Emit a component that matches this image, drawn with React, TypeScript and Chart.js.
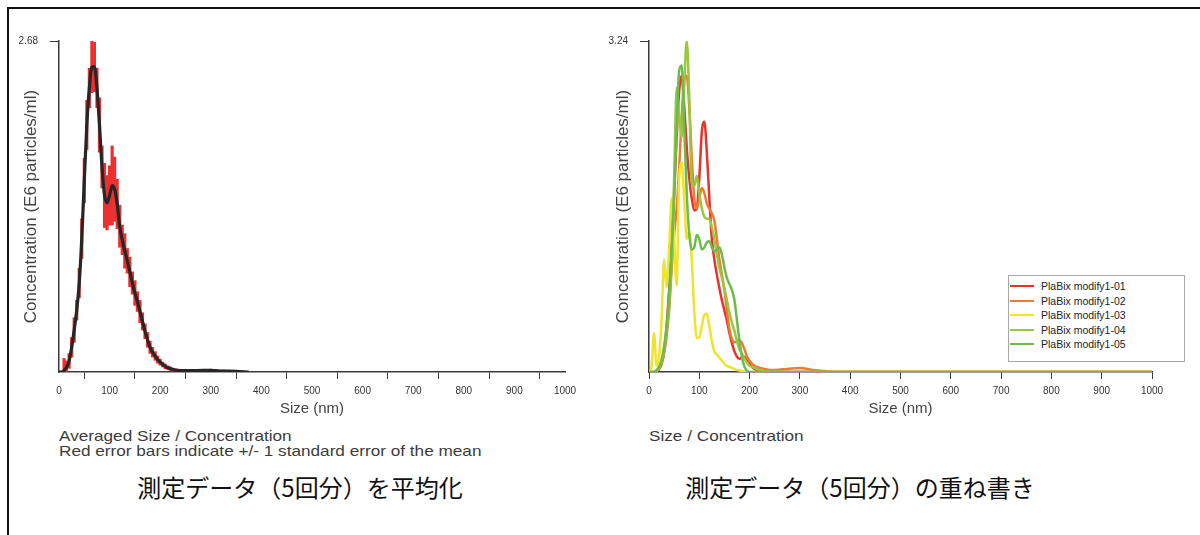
import React, { useEffect, useRef } from 'react';
import { Chart, registerables } from 'chart.js';

Chart.register(...registerables);

const FONT = '"Liberation Sans", Arial, Helvetica, sans-serif';
const JP_FONT = '"Noto Sans CJK JP", "Noto Sans CJK SC", sans-serif';

// ---------- Left chart: averaged data ----------
const leftSizes = [
  0, 5, 10, 15, 20, 25, 30, 35, 40, 45, 50, 55, 60, 65, 70, 75, 80, 85, 90, 95,
  100, 105, 110, 115, 120, 125, 130, 135, 140, 145, 150, 155, 160, 165, 170, 175, 180, 185, 190, 195,
  200, 205, 210, 215, 220, 225, 230, 235, 240, 245, 250, 275, 300, 325, 350, 375,
];
const leftMean = [
  0, 0, 0.01, 0.04, 0.09, 0.2, 0.34, 0.5, 0.72, 1.08, 1.55, 2.0, 2.3, 2.47, 2.47, 2.3, 2.0, 1.66, 1.43, 1.37,
  1.43, 1.51, 1.48, 1.36, 1.18, 1.07, 0.98, 0.9, 0.81, 0.72, 0.64, 0.57, 0.49, 0.41, 0.33, 0.26, 0.2, 0.16, 0.13, 0.1,
  0.08, 0.06, 0.046, 0.035, 0.027, 0.02, 0.016, 0.013, 0.012, 0.011, 0.011, 0.012, 0.013, 0.008, 0.005, 0,
];
const leftErr = [
  0, 0, 0.1, 0.05, 0.06, 0.08, 0.1, 0.08, 0.12, 0.16, 0.18, 0.2, 0.16, 0.21, 0.2, 0.16, 0.22, 0.17, 0.26, 0.22,
  0.24, 0.32, 0.26, 0.2, 0.17, 0.12, 0.14, 0.1, 0.12, 0.09, 0.1, 0.08, 0.09, 0.07, 0.06, 0.06, 0.05, 0.04, 0.035, 0.03,
  0.025, 0.02, 0.02, 0.015, 0.015, 0.012, 0.01, 0.01, 0.01, 0.01, 0.01, 0.01, 0.01, 0.008, 0.006, 0,
];
const leftYMax = 2.68;

// ---------- Right chart: five measurements ----------
const rightSizes = [
  0, 5, 10, 15, 20, 25, 30, 35, 40, 45, 50, 55, 60, 65, 70, 75, 80, 85, 90, 95,
  100, 105, 110, 115, 120, 125, 130, 135, 140, 145, 150, 155, 160, 165, 170, 175, 180, 185, 190, 195,
  200, 205, 210, 215, 220, 225, 230, 235, 240, 245, 250, 275, 300, 325, 350, 375, 400, 1000,
];
const run01 = [
  0, 0, 0, 0.01, 0.03, 0.08, 0.2, 0.45, 0.8, 1.25, 1.75, 2.3, 2.75, 2.9, 2.6, 2.2, 1.9, 1.7, 1.58, 1.6,
  1.9, 2.35, 2.45, 2.15, 1.7, 1.3, 1.1, 0.95, 0.82, 0.7, 0.6, 0.5, 0.38, 0.28, 0.2, 0.15, 0.13, 0.14, 0.15, 0.12,
  0.08, 0.05, 0.03, 0.02, 0.01, 0, 0, 0, 0, 0, 0, 0, 0, 0, 0, 0, 0, 0,
];
const run02 = [
  0, 0, 0, 0.01, 0.03, 0.08, 0.18, 0.35, 0.6, 1.0, 1.35, 1.6, 2.0, 2.5, 2.85, 2.9, 2.6, 2.1, 1.7, 1.6,
  1.7, 1.8, 1.75, 1.65, 1.6, 1.55, 1.48, 1.3, 1.1, 0.95, 0.8, 0.6, 0.42, 0.32, 0.29, 0.3, 0.31, 0.28, 0.22, 0.15,
  0.11, 0.08, 0.06, 0.05, 0.04, 0.035, 0.03, 0.025, 0.02, 0.02, 0.02, 0.03, 0.04, 0.02, 0.01, 0, 0, 0,
];
const run03 = [
  0, 0.05, 0.38, 0.06, 0.15, 0.5, 1.1, 0.83, 1.2, 1.7, 1.3, 0.85, 1.9, 2.05, 1.7, 1.3, 1.38, 1.1, 0.6, 0.33,
  0.34, 0.45, 0.56, 0.57, 0.45, 0.3, 0.2, 0.17, 0.14, 0.11, 0.08, 0.06, 0.05, 0.04, 0.03, 0.02, 0.015, 0.01, 0.005, 0,
  0, 0, 0, 0, 0, 0, 0, 0, 0, 0, 0, 0, 0, 0, 0, 0, 0, 0,
];
const run04 = [
  0, 0, 0, 0.01, 0.04, 0.1, 0.22, 0.4, 0.65, 1.1, 1.9, 2.78, 2.5, 2.3, 2.8, 3.24, 2.7, 1.85, 1.82, 1.92,
  1.75, 1.6, 1.52, 1.5, 1.5, 1.42, 1.3, 1.15, 1.02, 0.92, 0.82, 0.7, 0.58, 0.48, 0.4, 0.3, 0.22, 0.18, 0.13, 0.09,
  0.06, 0.05, 0.04, 0.03, 0.02, 0.015, 0.01, 0.005, 0, 0, 0, 0, 0, 0, 0, 0, 0, 0,
];
const run05 = [
  0, 0, 0, 0.02, 0.05, 0.12, 0.25, 0.45, 0.75, 1.2, 1.7, 2.4, 2.95, 3.0, 2.4, 1.75, 1.35, 1.2, 1.22, 1.34,
  1.3, 1.2, 1.22, 1.27, 1.28, 1.22, 1.18, 1.2, 1.22, 1.15, 1.02, 0.92, 0.86, 0.8, 0.7, 0.5, 0.3, 0.14, 0.05, 0.01,
  0, 0, 0, 0, 0, 0, 0, 0, 0, 0, 0, 0, 0, 0, 0, 0, 0, 0,
];
const runNames = ['PlaBix modify1-01', 'PlaBix modify1-02', 'PlaBix modify1-03', 'PlaBix modify1-04', 'PlaBix modify1-05'];
const runColors = ['#e8322b', '#f07a32', '#efe42c', '#98c83c', '#6cbb4c'];
const runs = [run01, run02, run03, run04, run05];
const rightYMax = 3.24;

const xTicks = { min: 0, max: 1000, step: 100 };

function axisOptions(yMax: number, yAxisWidth: number, titlePadTop: number) {
  const axisColor = '#3a3a3a';
  return {
    x: {
      type: 'linear' as const,
      min: xTicks.min,
      max: xTicks.max,
      offset: false,
      ticks: {
        stepSize: xTicks.step,
        autoSkip: false,
        maxRotation: 0,
        padding: 6,
        color: '#333',
        font: { family: FONT, size: 10 },
        callback: (v: any) => String(v),
      },
      grid: { drawOnChartArea: false, drawTicks: true, tickLength: 7, color: axisColor, tickColor: axisColor },
      border: { display: true, color: axisColor, width: 1.5 },
      title: {
        display: true,
        text: 'Size (nm)',
        color: '#444',
        font: { family: FONT, size: 15 },
        padding: { top: 0, bottom: 2 },
      },
      afterFit: (s: any) => {
        s.height = 48;
      },
    },
    y: {
      min: 0,
      max: yMax,
      afterBuildTicks: (s: any) => {
        s.ticks = [{ value: yMax }];
      },
      ticks: {
        padding: 12,
        color: '#333',
        font: { family: FONT, size: 10 },
        callback: (v: any) => Number(v).toFixed(2),
      },
      grid: { drawOnChartArea: false, drawTicks: true, tickLength: 9, color: axisColor, tickColor: axisColor },
      border: { display: true, color: axisColor, width: 1.5 },
      title: {
        display: true,
        text: 'Concentration (E6 particles/ml)',
        color: '#444',
        font: { family: FONT, size: 17 },
        padding: { top: titlePadTop, bottom: 0 },
      },
      afterFit: (s: any) => {
        s.width = yAxisWidth;
      },
    },
  };
}

function leftConfig(): any {
  const meanData = leftSizes.map((x, i) => ({ x, y: leftMean[i] }));
  const errData = leftSizes.map((x, i) => ({
    x,
    y: [Math.max(0, leftMean[i] - leftErr[i]), leftMean[i] + leftErr[i]],
  }));
  return {
    type: 'bar',
    data: {
      datasets: [
        {
          type: 'line',
          label: 'Mean',
          data: meanData,
          borderColor: '#262626',
          borderWidth: 3.2,
          pointRadius: 0,
          cubicInterpolationMode: 'monotone',
          fill: false,
          order: 0,
        },
        {
          type: 'bar',
          label: 'SEM',
          data: errData,
          backgroundColor: '#ec2f2f',
          borderWidth: 0,
          barPercentage: 1,
          categoryPercentage: 1,
          order: 1,
        },
      ],
    },
    options: {
      responsive: false,
      animation: false,
      events: [],
      layout: { padding: { left: 0, top: 41, right: 35, bottom: 0 } },
      plugins: { legend: { display: false }, tooltip: { enabled: false } },
      scales: axisOptions(leftYMax, 59, 21),
    },
  };
}

function rightConfig(): any {
  return {
    type: 'line',
    data: {
      datasets: runs.map((vals, k) => ({
        label: runNames[k],
        data: rightSizes.map((x, i) => ({ x, y: vals[i] })),
        borderColor: runColors[k],
        borderWidth: 2.5,
        pointRadius: 0,
        cubicInterpolationMode: 'monotone',
        fill: false,
        order: runs.length - k,
      })),
    },
    options: {
      responsive: false,
      animation: false,
      events: [],
      layout: { padding: { left: 0, top: 41, right: 48, bottom: 0 } },
      plugins: { legend: { display: false }, tooltip: { enabled: false } },
      scales: axisOptions(rightYMax, 49, 13),
    },
  };
}

function ChartCanvas({ make, left, top, width, height }: { make: () => any; left: number; top: number; width: number; height: number }) {
  const ref = useRef<HTMLCanvasElement>(null);
  useEffect(() => {
    const chart = new Chart(ref.current as HTMLCanvasElement, make());
    return () => chart.destroy();
  }, []);
  return (
    <canvas
      ref={ref}
      width={width}
      height={height}
      style={{ position: 'absolute', left, top, width, height }}
    />
  );
}

export default function App() {
  useEffect(() => {
    document.body.style.margin = '0';
  }, []);

  const caption: React.CSSProperties = {
    position: 'absolute',
    fontFamily: FONT,
    fontSize: 15,
    lineHeight: '15px',
    color: '#3c3c3c',
    whiteSpace: 'nowrap',
    transform: 'scaleX(1.145)',
    transformOrigin: 'left top',
  };
  const jp: React.CSSProperties = {
    position: 'absolute',
    fontFamily: JP_FONT,
    fontSize: 24,
    lineHeight: '30px',
    color: '#111',
    whiteSpace: 'nowrap',
    textAlign: 'center',
    width: 500,
    top: 472,
  };

  return (
    <div style={{ position: 'relative', width: 1200, height: 535, overflow: 'hidden', background: '#fff' }}>
      <div
        style={{
          position: 'absolute',
          left: 7,
          top: 7,
          width: 1193,
          height: 528,
          borderTop: '2px solid #111',
          borderLeft: '2px solid #111',
          boxSizing: 'border-box',
        }}
      />
      <ChartCanvas make={leftConfig} left={0} top={0} width={600} height={420} />
      <ChartCanvas make={rightConfig} left={600} top={0} width={600} height={420} />

      <div
        style={{
          position: 'absolute',
          left: 1008,
          top: 275,
          width: 177,
          height: 87,
          border: '1px solid #a8a8a8',
          boxSizing: 'border-box',
          background: '#fff',
        }}
      >
        {runNames.map((name, k) => (
          <div key={name} style={{ position: 'absolute', left: 0, top: 3 + k * 14.5, height: 14, width: 170 }}>
            <div
              style={{
                position: 'absolute',
                left: 1,
                top: 6,
                width: 24,
                height: 2,
                background: runColors[k],
              }}
            />
            <div
              style={{
                position: 'absolute',
                left: 32,
                top: 0,
                fontFamily: FONT,
                fontSize: 10.5,
                lineHeight: '14px',
                color: '#222',
                whiteSpace: 'nowrap',
              }}
            >
              {name}
            </div>
          </div>
        ))}
      </div>

      <div style={{ ...caption, left: 59, top: 428 }}>
        Averaged Size / Concentration
        <br />
        Red error bars indicate +/- 1 standard error of the mean
      </div>
      <div style={{ ...caption, left: 649, top: 428 }}>Size / Concentration</div>

      <div style={{ ...jp, left: 300 - 250 }}>測定データ（5回分）を平均化</div>
      <div style={{ ...jp, left: 860 - 250 }}>測定データ（5回分）の重ね書き</div>
    </div>
  );
}
